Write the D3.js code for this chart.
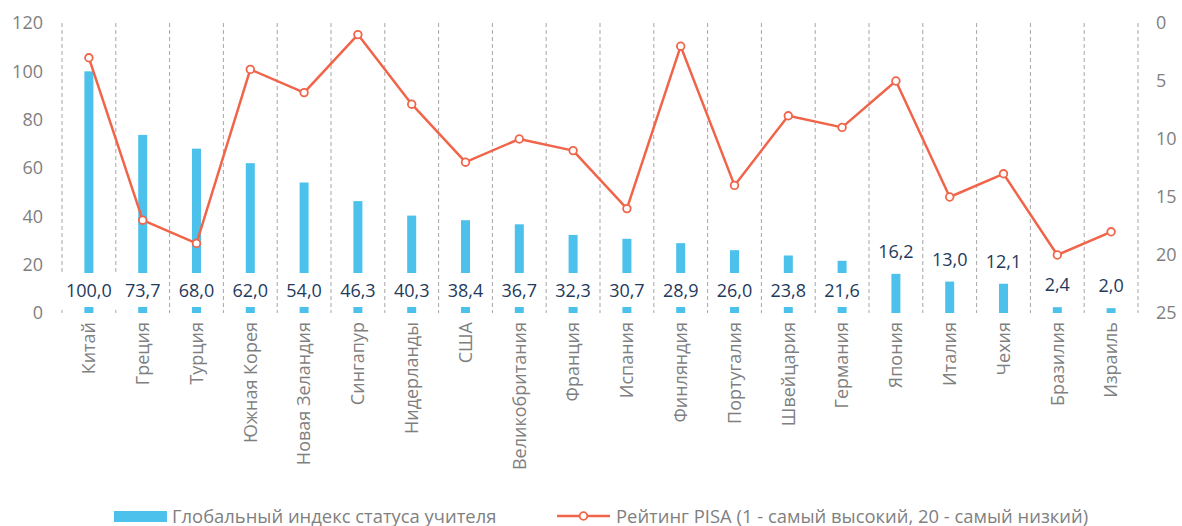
<!DOCTYPE html>
<html>
<head>
<meta charset="utf-8">
<script src="https://cdn.jsdelivr.net/npm/d3@7"></script>
<style>
  html, body { margin: 0; padding: 0; background: #fff; }
  svg { display: block; }
  text { font-family: "Open Sans", "Noto Sans", sans-serif; }
</style>
</head>
<body>
<svg id="chart" width="1182" height="526"></svg>
<script>
const categories = ["Китай","Греция","Турция","Южная Корея","Новая Зеландия","Сингапур","Нидерланды","США","Великобритания","Франция","Испания","Финляндия","Португалия","Швейцария","Германия","Япония","Италия","Чехия","Бразилия","Израиль"];
const statusIndex = [100.0,73.7,68.0,62.0,54.0,46.3,40.3,38.4,36.7,32.3,30.7,28.9,26.0,23.8,21.6,16.2,13.0,12.1,2.4,2.0];
const pisaRank = [3,17,19,4,6,1,7,12,10,11,16,2,14,8,9,5,15,13,20,18];
const leftTicks = [0,20,40,60,80,100,120];
const rightTicks = [0,5,10,15,20,25];
const seriesNames = ["Глобальный индекс статуса учителя","Рейтинг PISA (1 - самый высокий, 20 - самый низкий)"];

const barColor = "#4BC1EC";
const lineColor = "#F0654A";
const tickColor = "#7F7F7F";
const labelColor = "#1F3A5C";

const svg = d3.select("#chart");
const pLeft = 62, pRight = 1138, pTop = 23, pBottom = 313;

const x = d3.scaleBand().domain(categories).range([pLeft, pRight]).padding(0);
const yL = d3.scaleLinear().domain([0,120]).range([pBottom, pTop]);
const yR = d3.scaleLinear().domain([0,25]).range([pTop, pBottom]);

// vertical dashed gridlines at category boundaries
const bounds = categories.map(c => x(c)).concat([pRight]);
svg.append("g").selectAll("line").data(bounds).join("line")
  .attr("x1", d => d).attr("x2", d => d)
  .attr("y1", pTop).attr("y2", pBottom)
  .attr("stroke", "#A6A6A6").attr("stroke-width", 1)
  .attr("stroke-dasharray", "4,3");

// bars
const bw = 9;
svg.append("g").selectAll("rect").data(statusIndex).join("rect")
  .attr("x", (d,i) => x(categories[i]) + x.bandwidth()/2 - bw/2)
  .attr("width", bw)
  .attr("y", d => yL(d))
  .attr("height", d => pBottom - yL(d))
  .attr("fill", barColor);

// data labels
const fmt = v => v.toFixed(1).replace(".", ",");
const boxCenter = 290, boxH = 34;
const lg = svg.append("g");
statusIndex.forEach((v,i) => {
  const cx = x(categories[i]) + x.bandwidth()/2;
  const inside = yL(v) < boxCenter - boxH/2;
  const cy = inside ? boxCenter : yL(v) - 23;
  const t = lg.append("text")
    .attr("x", cx).attr("y", cy)
    .attr("text-anchor", "middle").attr("dominant-baseline", "central")
    .attr("font-size", 18).attr("fill", labelColor)
    .text(fmt(v));
  const w = t.node().getComputedTextLength();
  lg.insert("rect", () => t.node())
    .attr("x", cx - w/2 - 7).attr("width", w + 14)
    .attr("y", cy - boxH/2).attr("height", boxH)
    .attr("fill", "#fff");
});

// line
const line = d3.line()
  .x((d,i) => x(categories[i]) + x.bandwidth()/2)
  .y(d => yR(d));
svg.append("path").datum(pisaRank)
  .attr("d", line).attr("fill", "none")
  .attr("stroke", lineColor).attr("stroke-width", 2.5)
  .attr("stroke-linejoin", "round");
svg.append("g").selectAll("circle").data(pisaRank).join("circle")
  .attr("cx", (d,i) => x(categories[i]) + x.bandwidth()/2)
  .attr("cy", d => yR(d))
  .attr("r", 3.8)
  .attr("fill", "#fff").attr("stroke", lineColor).attr("stroke-width", 1.8);

// left axis
const axL = d3.axisLeft(yL).tickValues(leftTicks).tickSize(0).tickPadding(0);
const gL = svg.append("g").attr("transform", `translate(43,0)`).call(axL);
gL.select(".domain").remove();
gL.selectAll("text").attr("font-size", 18).attr("fill", tickColor)
  .attr("font-family", "'Open Sans', 'Noto Sans', sans-serif");

// right axis
const axR = d3.axisRight(yR).tickValues(rightTicks).tickSize(0).tickPadding(0);
const gR = svg.append("g").attr("transform", `translate(1156,0)`).call(axR);
gR.select(".domain").remove();
gR.selectAll("text").attr("font-size", 18).attr("fill", tickColor)
  .attr("font-family", "'Open Sans', 'Noto Sans', sans-serif");

// category labels
const axB = d3.axisBottom(x).tickSize(0).tickPadding(0);
const gB = svg.append("g").attr("transform", `translate(0,${pBottom})`).call(axB);
gB.select(".domain").remove();
gB.selectAll("text")
  .attr("font-size", 18).attr("fill", tickColor)
  .attr("font-family", "'Open Sans', 'Noto Sans', sans-serif")
  .attr("transform", "rotate(-90)")
  .attr("text-anchor", "end")
  .attr("dy", "0.35em")
  .attr("x", -9).attr("y", 0);

// legend
const leg = svg.append("g");
leg.append("rect").attr("x", 114).attr("y", 511).attr("width", 53).attr("height", 11).attr("fill", barColor);
leg.append("text").attr("x", 172).attr("y", 515).attr("dominant-baseline", "central")
  .attr("font-size", 18.4).attr("fill", tickColor).text(seriesNames[0]);
leg.append("line").attr("x1", 557).attr("x2", 610).attr("y1", 516).attr("y2", 516)
  .attr("stroke", lineColor).attr("stroke-width", 2.5);
leg.append("circle").attr("cx", 583.5).attr("cy", 516).attr("r", 3.8)
  .attr("fill", "#fff").attr("stroke", lineColor).attr("stroke-width", 1.8);
leg.append("text").attr("x", 616).attr("y", 515).attr("dominant-baseline", "central")
  .attr("font-size", 18.4).attr("fill", tickColor).text(seriesNames[1]);
</script>
</body>
</html>
